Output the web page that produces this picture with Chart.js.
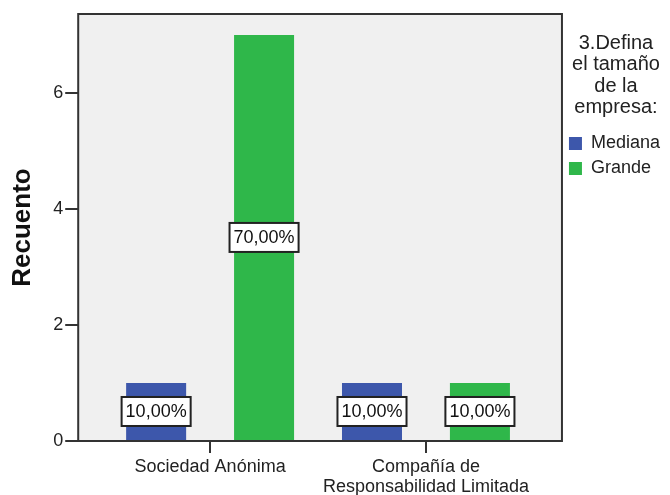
<!DOCTYPE html>
<html lang="es">
<head>
<meta charset="utf-8">
<title>Recuento por tipo de empresa</title>
<script src="https://cdn.jsdelivr.net/npm/chart.js@4.4.0/dist/chart.umd.min.js"></script>
<style>
  html, body { margin: 0; padding: 0; background: #fff; }
  #grafico { display: block; }
</style>
</head>
<body>
<canvas id="grafico" width="670" height="495"></canvas>
<script>
// Datos del gráfico
const categorias = [['Sociedad Anónima'], ['Compañía de', 'Responsabilidad Limitada']];
const series = ['Mediana', 'Grande'];
const mediana = [1, 1];
const grande = [7, 1];
const ticksY = [0, 2, 4, 6];
const tituloLeyenda = ['3.Defina', 'el tamaño', 'de la', 'empresa:'];

const colores = ['#3d57ab', '#2fb74a'];
const fuente = "'Liberation Sans', Arial, sans-serif";

// Porcentaje sobre el total de casos
const total = mediana.concat(grande).reduce((a, b) => a + b, 0);
function porcentaje(v) {
    return (v / total * 100).toFixed(2).replace('.', ',') + '%';
}

// Fondo gris del área y marco
const fondoYMarco = {
    id: 'fondoYMarco',
    beforeDraw(chart) {
        const { ctx, chartArea: a } = chart;
        ctx.save();
        ctx.fillStyle = '#f0f0f0';
        ctx.fillRect(a.left, a.top, a.right - a.left, a.bottom - a.top);
        ctx.restore();
    },
    afterDatasetsDraw(chart) {
        const { ctx, chartArea: a } = chart;
        ctx.save();
        ctx.strokeStyle = '#333';
        ctx.lineWidth = 2;
        ctx.strokeRect(a.left, a.top, a.right - a.left, a.bottom - a.top);
        ctx.restore();
    }
};

// Etiquetas con porcentaje en el centro de cada barra
const etiquetas = {
    id: 'etiquetas',
    afterDatasetsDraw(chart) {
        const ctx = chart.ctx;
        ctx.save();
        ctx.font = '18px ' + fuente;
        ctx.textAlign = 'center';
        ctx.textBaseline = 'middle';
        chart.data.datasets.forEach((ds, i) => {
            chart.getDatasetMeta(i).data.forEach((barra, j) => {
                const texto = porcentaje(ds.data[j].y);
                const w = ctx.measureText(texto).width + 8;
                const h = 29;
                const cy = (barra.y + barra.base) / 2;
                ctx.fillStyle = '#fff';
                ctx.fillRect(barra.x - w / 2, cy - h / 2, w, h);
                ctx.lineWidth = 2;
                ctx.strokeStyle = '#222';
                ctx.strokeRect(barra.x - w / 2, cy - h / 2, w, h);
                ctx.fillStyle = '#111';
                ctx.fillText(texto, barra.x, cy + 1);
            });
        });
        ctx.restore();
    }
};

const valores = [mediana, grande];
const grafico = new Chart(document.getElementById('grafico'), {
    type: 'bar',
    data: {
        datasets: series.map((nombre, s) => ({
            label: nombre,
            data: valores[s].map((v, i) => ({ x: i, y: v })),
            backgroundColor: colores[s],
            borderWidth: 0,
            barPercentage: 0.556,
            categoryPercentage: 1.0
        }))
    },
    options: {
        responsive: false,
        animation: false,
        layout: { padding: { top: 14, right: 0, bottom: -6, left: 0 } },
        scales: {
            x: {
                type: 'linear',
                min: -0.611,
                max: 1.63,
                offset: false,
                afterBuildTicks: (s) => { s.ticks = categorias.map((c, i) => ({ value: i })); },
                grid: { offset: false, drawOnChartArea: false, tickLength: 12, color: '#333', lineWidth: 2 },
                border: { display: false },
                ticks: {
                    callback: (v) => categorias[v],
                    color: '#222',
                    padding: 4,
                    maxRotation: 0,
                    font: { family: fuente, size: 18, lineHeight: '20px' }
                }
            },
            y: {
                min: 0,
                max: 7.36,
                afterBuildTicks: (s) => { s.ticks = ticksY.map(v => ({ value: v })); },
                grid: { drawOnChartArea: false, tickLength: 13, color: '#333', lineWidth: 2 },
                border: { display: false },
                ticks: {
                    color: '#222',
                    padding: 2,
                    font: { family: fuente, size: 18 }
                },
                title: {
                    display: true,
                    text: 'Recuento',
                    color: '#111',
                    padding: { top: 7, bottom: 13 },
                    font: { family: fuente, size: 26, weight: 'bold', lineHeight: 1.2 }
                }
            }
        },
        plugins: {
            tooltip: { enabled: false },
            legend: {
                position: 'right',
                align: 'start',
                title: {
                    display: true,
                    text: tituloLeyenda,
                    color: '#222',
                    padding: { top: 19, bottom: 73 },
                    font: { family: fuente, size: 20, lineHeight: 1.075 }
                },
                labels: {
                    boxWidth: 13,
                    boxHeight: 13,
                    padding: 7,
                    color: '#222',
                    font: { family: fuente, size: 18 }
                }
            }
        }
    },
    plugins: [fondoYMarco, etiquetas]
});
</script>
</body>
</html>
